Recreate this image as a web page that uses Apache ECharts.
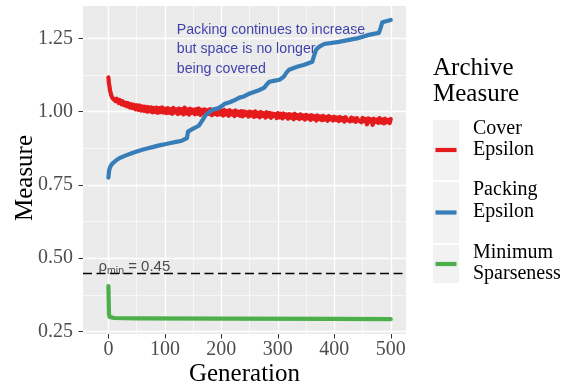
<!DOCTYPE html>
<html><head><meta charset="utf-8">
<script src="https://cdn.jsdelivr.net/npm/echarts@6/dist/echarts.min.js"></script>
<style>html,body{margin:0;padding:0;background:#fff}#c{width:567px;height:385px}</style>
</head><body><div id="c"></div>
<script>
// ---------- data ----------
const xTicks = [0, 100, 200, 300, 400, 500];
const xMinor = [50, 150, 250, 350, 450];
const yTicks = [0.25, 0.50, 0.75, 1.00, 1.25];
const yMinor = [0.375, 0.625, 0.875, 1.125];
const xRange = [-45, 527];
const yRange = [0.2415, 1.3605];

const seriesNames = ['Cover Epsilon', 'Packing Epsilon', 'Minimum Sparseness'];
const seriesColors = ['#E41A1C', '#377EB8', '#4DAF4A'];

const coverGen = [0,1,2,3,4,5,6,7,8,9,10,13,15,18,20,23,25,28,30,33,35,38,40,43,45,48,50,53,55,58,60,63,65,68,70,73,75,78,80,83,85,88,90,93,95,98,100,
  103,105,108,110,113,115,118,120,123,125,128,130,133,135,138,140,143,145,148,150,153,155,158,160,163,165,168,170,173,175,178,180,183,185,188,190,193,195,198,200,
  203,205,208,210,213,215,218,220,223,225,228,230,233,235,238,240,243,245,248,250,253,255,258,260,263,265,268,270,273,275,278,280,283,285,288,290,293,295,298,300,
  303,305,308,310,313,315,318,320,323,325,328,330,333,335,338,340,343,345,348,350,353,355,358,360,363,365,368,370,373,375,378,380,383,385,388,390,393,395,398,400,
  403,405,408,410,413,415,418,420,423,425,428,430,433,435,438,440,443,445,448,450,453,455,458,460,463,465,468,470,473,475,478,480,483,485,488,490,493,495,498,500];
const coverVal = [1.117,1.096,1.085,1.071,1.066,1.056,1.058,1.047,1.053,1.044,1.048,1.036,1.044,1.030,1.040,1.025,1.036,1.022,1.031,1.018,1.029,1.014,1.026,1.012,1.024,1.008,1.022,1.006,1.021,1.004,1.018,1.003,1.017,1.000,1.016,1.001,1.015,0.998,1.013,0.999,1.014,0.996,1.012,0.999,1.015,0.997,1.010,
  0.995,1.012,0.996,1.009,0.993,1.013,0.997,1.008,0.992,1.011,0.995,1.009,0.991,1.014,0.994,1.008,0.990,1.010,0.996,1.007,0.991,1.009,0.993,1.011,0.989,1.006,0.994,1.008,0.990,1.005,0.993,1.009,0.988,1.006,0.992,1.004,0.989,1.007,0.991,1.003,
  0.987,1.006,0.990,1.003,0.986,1.005,0.991,1.001,0.985,1.004,0.989,1.000,0.986,1.002,0.984,1.001,0.989,0.998,0.983,1.000,0.987,0.998,0.982,1.001,0.985,0.996,0.981,0.999,0.986,0.995,0.980,0.998,0.984,0.996,0.979,0.994,0.985,0.992,0.978,0.995,
  0.981,0.993,0.977,0.994,0.982,0.991,0.976,0.992,0.980,0.990,0.974,0.993,0.979,0.988,0.975,0.991,0.978,0.987,0.973,0.989,0.977,0.986,0.972,0.988,0.976,0.985,0.970,0.987,0.975,0.984,0.971,0.986,0.973,0.982,0.969,0.985,0.974,0.981,0.970,0.983,
  0.972,0.980,0.968,0.982,0.971,0.979,0.966,0.981,0.972,0.978,0.967,0.980,0.969,0.977,0.965,0.978,0.970,0.976,0.964,0.979,0.968,0.975,0.957,0.977,0.966,0.974,0.955,0.976,0.965,0.973,0.962,0.978,0.963,0.974,0.960,0.976,0.964,0.972,0.961,0.975];

const packGen = [0,1,2,4,7,10,15,20,30,40,50,60,70,80,90,100,110,120,130,139,141,150,160,165,172,180,
  185,195,200,206,215,222,232,240,248,259,268,276,280,285,295,303,310,316,320,334,347,361,364,368,373,382,
  408,426,440,461,479,482,485,500];
const packVal = [0.775,0.795,0.805,0.815,0.823,0.829,0.836,0.842,0.850,0.857,0.864,0.870,0.875,0.880,0.885,0.889,0.893,0.897,0.901,0.910,0.932,0.942,0.952,0.966,0.988,1.000,
  1.007,1.012,1.018,1.027,1.032,1.038,1.048,1.052,1.060,1.068,1.074,1.082,1.092,1.102,1.106,1.109,1.118,1.135,1.143,1.153,1.160,1.170,1.190,1.212,1.221,1.231,
  1.238,1.245,1.250,1.262,1.269,1.285,1.305,1.313];

const sparseGen = [0,1,2,4,10,50,200,400,500];
const sparseVal = [0.405,0.310,0.300,0.297,0.296,0.295,0.294,0.293,0.292];

const threshold = 0.45;
const thresholdLabelAt = [46, 0.472];
const annotationText = ['Packing continues to increase', 'but space is no longer', 'being covered'];
const annotationAt = [121, 1.212];

const legendTitle = ['Archive', 'Measure'];
const legendLabels = [['Cover', 'Epsilon'], ['Packing', 'Epsilon'], ['Minimum', 'Sparseness']];

// ---------- chart ----------
const zip = (a, b) => a.map((v, i) => [v, b[i]]);
const SERIF = 'Liberation Serif';
const SANS = 'Liberation Sans';

const chart = echarts.init(document.getElementById('c'), null, {renderer: 'canvas'});

const majorLine = {show: true, lineStyle: {color: '#FFFFFF', width: 1.3}};
const minorLine = {show: true, lineStyle: {color: '#FFFFFF', width: 0.6}};

const lineSeries = [coverGen, packGen, sparseGen].map((g, i) => ({
  type: 'line',
  name: seriesNames[i],
  data: zip(g, [coverVal, packVal, sparseVal][i]),
  showSymbol: false,
  symbol: 'none',
  xAxisIndex: 0, yAxisIndex: 0,
  lineStyle: {color: seriesColors[i], width: 4.2, join: 'round', cap: 'round'},
  itemStyle: {color: seriesColors[i]},
  z: 3 + i
}));

lineSeries[2].markLine = {
  silent: true, symbol: 'none', animation: false,
  label: {show: false},
  lineStyle: {color: '#000000', width: 1.3, type: [9, 4.5]},
  data: [{yAxis: threshold}]
};

// legend graphics
const graphics = [];
const legX = 433;
legendTitle.forEach((t, i) => graphics.push({
  type: 'text', x: legX, y: 68 + i * 26.5,
  style: {text: t, font: '25px "' + SERIF + '"', fill: '#000', textVerticalAlign: 'middle', textAlign: 'left'}
}));
const keyBoxes = [[120, 60], [182, 61], [245, 38]];
const labelY = [[129, 150.2], [190, 212.2], [253.2, 274]];
legendLabels.forEach((lab, i) => {
  const [by, bh] = keyBoxes[i];
  graphics.push({type: 'rect', shape: {x: legX, y: by, width: 26, height: bh}, style: {fill: '#F2F2F2'}});
  graphics.push({type: 'line', shape: {x1: legX + 2.5, y1: by + bh / 2, x2: legX + 23.5, y2: by + bh / 2},
    style: {stroke: seriesColors[i], lineWidth: 4.2}});
  lab.forEach((t, j) => graphics.push({
    type: 'text', x: 473, y: labelY[i][j],
    style: {text: t, font: '20px "' + SERIF + '"', fill: '#000', textVerticalAlign: 'middle', textAlign: 'left'}
  }));
});

const option = {
  animation: false,
  backgroundColor: '#FFFFFF',
  grid: {left: 83, right: 161, top: 6, bottom: 51, show: true, backgroundColor: '#EBEBEB', borderWidth: 0,
    outerBoundsMode: 'none', containLabel: false},
  xAxis: [{
    type: 'value', min: xRange[0], max: xRange[1], position: 'bottom',
    name: 'Generation', nameLocation: 'middle', nameGap: 28, nameMoveOverlap: false,
    nameTextStyle: {fontFamily: SERIF, fontSize: 25, color: '#000'},
    axisLine: {show: false, onZero: false},
    axisTick: {show: true, length: 4.5, customValues: xTicks, lineStyle: {color: '#333333', width: 1}},
    axisLabel: {show: true, customValues: xTicks, margin: 6, fontFamily: SERIF, fontSize: 20, color: '#4D4D4D'},
    splitLine: majorLine
  }, {
    type: 'value', min: xRange[0], max: xRange[1], position: 'top',
    axisLine: {show: false, onZero: false}, axisLabel: {show: false},
    axisTick: {show: false, customValues: xMinor},
    splitLine: minorLine
  }],
  yAxis: [{
    type: 'value', min: yRange[0], max: yRange[1], position: 'left',
    name: 'Measure', nameLocation: 'middle', nameGap: 45, nameMoveOverlap: false,
    nameTextStyle: {fontFamily: SERIF, fontSize: 25, color: '#000', padding: [0, 16, 0, 0]},
    axisLine: {show: false, onZero: false},
    axisTick: {show: true, length: 4.5, customValues: yTicks, lineStyle: {color: '#333333', width: 1}},
    axisLabel: {show: true, customValues: yTicks, margin: 10, fontFamily: SERIF, fontSize: 20, color: '#4D4D4D',
      formatter: v => Number(v).toFixed(2)},
    splitLine: majorLine
  }, {
    type: 'value', min: yRange[0], max: yRange[1], position: 'right',
    axisLine: {show: false, onZero: false}, axisLabel: {show: false},
    axisTick: {show: false, customValues: yMinor},
    splitLine: minorLine
  }],
  series: [
    ...lineSeries,
    {
      type: 'scatter', symbolSize: 0, silent: true, z: 10,
      data: [annotationAt],
      label: {show: true, position: 'right', distance: 0,
        formatter: annotationText.join('\n'),
        fontFamily: SANS, fontSize: 14.2, lineHeight: 19.5, color: '#14149A'}
    },
    {
      type: 'scatter', symbolSize: 0, silent: true, z: 10,
      data: [thresholdLabelAt],
      label: {show: true, position: 'inside',
        formatter: '{a|ρ}{s|min}{a| = 0.45}',
        rich: {
          a: {fontFamily: SANS, fontSize: 15, color: '#222222'},
          s: {fontFamily: SANS, fontSize: 10.5, color: '#222222', padding: [10, 0, 0, 0]}
        }}
    }
  ],
  graphic: graphics
};
chart.setOption(option);
</script></body></html>
